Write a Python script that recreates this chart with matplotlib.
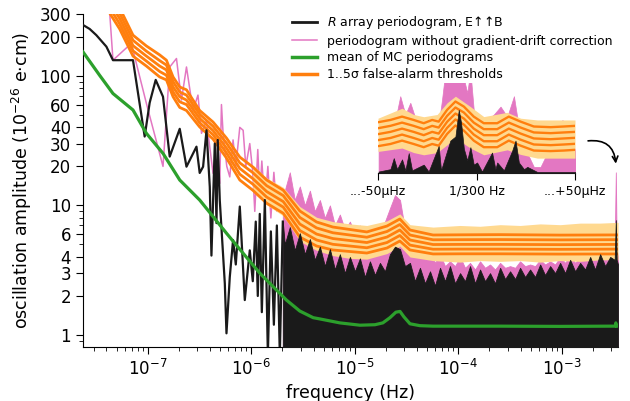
import numpy as np
import matplotlib
matplotlib.use("Agg")
import matplotlib.pyplot as plt
from matplotlib.lines import Line2D
from matplotlib.ticker import FixedLocator, FixedFormatter, LogLocator, NullFormatter, NullLocator

# ---------------- data ----------------
# R-array periodogram, low-frequency part drawn as a line (Hz, 1e-26 e cm)
f_black = [2.37e-8, 2.75e-8, 3.19e-8, 3.99e-8, 4.62e-8, 7.21e-8, 9.35e-8, 1.045e-7,
           1.195e-7, 1.406e-7, 1.632e-7, 2.04e-7, 2.37e-7, 2.96e-7, 3.18e-7, 3.43e-7,
           3.70e-7, 3.98e-7, 4.13e-7, 4.45e-7, 4.62e-7, 4.75e-7, 4.97e-7, 5.56e-7,
           5.77e-7, 6.21e-7, 6.68e-7, 7.10e-7, 7.76e-7, 8.67e-7, 9.69e-7, 1.036e-6,
           1.107e-6, 1.158e-6, 1.21e-6, 1.267e-6, 1.355e-6, 1.449e-6, 1.549e-6, 1.656e-6,
           1.77e-6, 1.89e-6, 2.02e-6]
amp_black = [247, 230, 206, 168, 132, 132, 34, 62,
             93, 69, 23.8, 39, 19.9, 28.4, 17.8, 19.9,
             38, 13.9, 4.1, 30, 7.3, 32, 11, 2.5,
             1.03, 2.8, 5.4, 3.5, 9.8, 1.86, 4.5, 2.6,
             7.5, 2.0, 8.6, 1.5, 11, 0.7, 6.3, 1.2,
             7.0, 0.7, 7.5]

# periodogram without gradient-drift correction, low-frequency part
f_pink = [2.37e-8, 3.43e-8, 4.29e-8, 4.62e-8, 6.95e-8, 9.78e-8, 1.406e-7, 1.632e-7,
          1.897e-7, 2.12e-7, 2.37e-7, 2.74e-7, 3.06e-7, 3.31e-7, 3.70e-7, 4.28e-7,
          4.62e-7, 4.97e-7, 5.16e-7, 5.35e-7, 5.81e-7, 6.21e-7, 6.68e-7, 7.10e-7,
          7.76e-7, 8.36e-7, 8.87e-7, 9.69e-7, 1.036e-6, 1.083e-6, 1.158e-6, 1.21e-6,
          1.267e-6, 1.355e-6, 1.449e-6, 1.549e-6, 1.656e-6, 1.77e-6, 1.89e-6, 2.02e-6]
amp_pink = [900, 600, 310, 132, 178, 60, 20, 117,
            136, 65, 117, 54, 71, 36, 45, 17.7,
            22.4, 14.8, 60, 36, 20, 16.6, 32, 20,
            40, 38, 20, 30, 18, 9, 27, 12,
            22, 10, 20, 8, 18, 9, 14, 12]

# dense high-frequency part: upper envelope of the two periodograms
f_dense = [9.69e-7, 1.083e-6, 1.21e-6, 1.355e-6, 1.514e-6, 1.69e-6, 1.89e-6, 2.11e-6,
           2.36e-6, 2.64e-6, 2.95e-6, 3.30e-6, 3.69e-6, 4.12e-6, 4.61e-6, 5.15e-6,
           5.76e-6, 6.44e-6, 7.19e-6, 8.04e-6, 8.99e-6, 1.005e-5, 1.123e-5, 1.255e-5,
           1.403e-5, 1.569e-5, 1.753e-5, 1.96e-5, 2.19e-5, 2.45e-5, 2.74e-5, 3.06e-5,
           3.42e-5, 3.82e-5, 4.27e-5, 4.78e-5, 5.34e-5, 5.97e-5, 6.67e-5, 7.46e-5,
           8.33e-5, 9.32e-5, 1.042e-4, 1.164e-4, 1.301e-4, 1.455e-4, 1.626e-4, 1.817e-4,
           2.03e-4, 2.27e-4, 2.54e-4, 2.84e-4, 3.17e-4, 3.55e-4, 3.96e-4, 4.43e-4,
           4.95e-4, 5.53e-4, 6.19e-4, 6.91e-4, 7.73e-4, 8.64e-4, 9.65e-4, 1.079e-3,
           1.206e-3, 1.348e-3, 1.507e-3, 1.685e-3, 1.883e-3, 2.10e-3, 2.35e-3, 2.63e-3,
           2.94e-3, 3.25e-3, 3.333e-3, 3.40e-3, 3.50e-3]
black_top = [4.5, 9.0, 6.5, 11.0, 5.5, 8.0, 7.5, 5.0,
             6.8, 4.5, 6.1, 4.2, 5.5, 3.8, 4.8, 3.4,
             4.6, 3.2, 4.2, 3.0, 4.0, 3.1, 3.9, 2.8,
             3.7, 2.9, 3.6, 3.1, 4.2, 4.8, 4.6, 3.4,
             3.6, 2.6, 3.3, 2.5, 3.1, 2.4, 3.3, 2.6,
             3.4, 2.5, 3.0, 2.6, 3.4, 2.5, 3.2, 2.6,
             3.0, 2.5, 3.3, 2.7, 3.1, 2.7, 3.3, 2.8,
             3.2, 2.8, 3.5, 2.9, 3.4, 3.0, 3.6, 3.0,
             3.8, 3.1, 3.6, 3.2, 4.0, 3.2, 4.2, 3.4,
             4.0, 3.8, 7.7, 3.8, 3.5]
pink_top = [30, 18, 27, 16, 22, 14, 20, 13,
            18, 11, 14, 10, 13, 9, 11, 8,
            10, 7, 8.5, 6.5, 7.5, 6.0, 7.0, 5.5,
            6.5, 5.5, 7.0, 7.5, 9.5, 12, 11, 6.5,
            6.0, 4.0, 4.6, 3.8, 4.6, 3.6, 4.2, 3.4,
            3.7, 3.4, 4.0, 3.3, 3.6, 3.2, 3.7, 3.3,
            3.5, 3.2, 3.6, 3.3, 3.4, 3.3, 3.7, 3.4,
            3.5, 3.4, 3.8, 3.5, 3.7, 3.5, 4.0, 3.6,
            4.1, 3.6, 4.0, 3.7, 4.3, 3.8, 4.5, 4.0,
            4.6, 5.0, 18, 4.5, 4.0]

# mean of Monte-Carlo periodograms
f_mc = [2.37e-8, 3.43e-8, 4.62e-8, 7.21e-8, 9.71e-8, 1.406e-7, 2.04e-7, 3.18e-7,
        4.28e-7, 5.77e-7, 8.36e-7, 1.21e-6, 1.63e-6, 2.19e-6, 2.95e-6, 3.97e-6,
        4.61e-6, 7.19e-6, 1.123e-5, 1.569e-5, 1.87e-5, 2.19e-5, 2.50e-5, 2.74e-5,
        2.99e-5, 3.42e-5, 4.27e-5, 5.71e-5, 2.54e-4, 9.65e-4, 2.94e-3, 3.29e-3,
        3.333e-3, 3.37e-3, 3.50e-3]
mc_mean = [153, 101, 73, 54.5, 36, 25.2, 15.7, 11,
           8.2, 6.1, 4.27, 3.0, 2.36, 1.86, 1.53, 1.36,
           1.33, 1.24, 1.19, 1.2, 1.24, 1.36, 1.5, 1.52,
           1.38, 1.22, 1.18, 1.17, 1.17, 1.165, 1.17, 1.17,
           1.24, 1.17, 1.17]

# 1..5 sigma false-alarm thresholds
f_thr = [3.43e-8, 4.29e-8, 5.36e-8, 7.21e-8, 9.71e-8, 1.306e-7, 1.517e-7, 1.758e-7,
         2.04e-7, 2.37e-7, 3.18e-7, 4.28e-7, 5.77e-7, 7.76e-7, 1.036e-6, 1.41e-6,
         2.04e-6, 2.95e-6, 4.28e-6, 6.15e-6, 1.31e-5, 2.05e-5, 2.73e-5, 3.42e-5,
         5.71e-5, 1.04e-4, 2.54e-4, 9.66e-4, 3.50e-3]
thr_5 = [589, 443, 334, 206, 170, 145, 132, 98, 82, 78, 54, 44, 33.1, 23.6, 19.8, 15.7,
         13.1, 9.06, 7.45, 6.81, 6.24, 6.93, 7.85, 6.46, 5.91, 5.93, 5.95, 5.90, 5.92]
thr_4 = [536, 404, 304, 188, 155, 131, 121, 90, 75, 71, 50.5, 40.8, 30.3, 21.3, 17.9, 14.2,
         11.9, 8.07, 6.70, 6.15, 5.68, 6.29, 7.12, 5.91, 5.43, 5.44, 5.45, 5.42, 5.44]
thr_3 = [488, 368, 277, 171, 142, 119, 111, 82, 69, 65, 46.9, 37.8, 27.7, 19.3, 16.1, 12.8,
         10.7, 7.18, 6.01, 5.55, 5.17, 5.70, 6.46, 5.41, 4.99, 5.0, 5.0, 4.98, 5.0]
thr_2 = [444, 335, 252, 156, 130, 108, 101, 75, 63, 60, 43.4, 35.1, 25.4, 17.4, 14.6, 11.6,
         9.7, 6.40, 5.41, 5.01, 4.71, 5.17, 5.86, 4.94, 4.59, 4.6, 4.6, 4.58, 4.6]
thr_1 = [405, 305, 230, 142, 119, 98, 93, 69, 57, 54, 40.3, 32.5, 23.2, 15.7, 13.1, 10.4,
         8.7, 5.70, 4.86, 4.53, 4.29, 4.69, 5.31, 4.53, 4.22, 4.23, 4.23, 4.21, 4.22]

# spread of the thresholds (light band)
f_band = [1.036e-6, 1.41e-6, 2.04e-6, 2.95e-6, 4.28e-6, 6.15e-6, 8.99e-6, 1.31e-5,
          2.05e-5, 2.73e-5, 3.42e-5, 5.71e-5, 1.04e-4, 1.626e-4, 2.54e-4, 3.96e-4,
          6.19e-4, 9.66e-4, 1.507e-3, 2.35e-3, 3.50e-3]
band_hi = [20.5, 16.3, 13.8, 9.8, 8.1, 7.5, 7.2, 7.0, 7.6, 8.6, 7.1, 6.8, 7.0, 6.9,
           7.1, 7.0, 7.2, 7.1, 7.3, 7.3, 7.4]
band_lo = [12.8, 10.1, 8.3, 5.3, 4.5, 4.1, 3.9, 3.85, 4.25, 4.85, 4.0, 3.75, 3.65, 3.75,
           3.7, 3.75, 3.65, 3.75, 3.7, 3.8, 3.8]

# inset: +-50 uHz around 1/300 Hz (offsets in uHz)
off_thr = [-50, -43.7, -37.8, -31.9, -26.8, -22.5, -19.2, -14.9, -10.7, -6.4,
           -1.4, 3.7, 10.5, 16.4, 22.4, 29.1, 37.6, 44.4, 50]
in_thr_5 = [5.93, 6.12, 6.41, 6.12, 5.85, 6.12, 5.98, 7.04, 7.9, 7.36,
            6.41, 5.85, 5.85, 6.41, 5.98, 5.59, 5.54, 5.59, 5.64]
in_thr_4 = [5.46, 5.64, 5.90, 5.64, 5.39, 5.64, 5.51, 6.48, 7.27, 6.78,
            5.90, 5.39, 5.39, 5.90, 5.51, 5.15, 5.10, 5.15, 5.19]
in_thr_3 = [5.03, 5.19, 5.43, 5.19, 4.96, 5.19, 5.07, 5.97, 6.69, 6.24,
            5.43, 4.96, 4.96, 5.43, 5.07, 4.74, 4.69, 4.74, 4.78]
in_thr_2 = [4.63, 4.77, 5.00, 4.77, 4.56, 4.77, 4.66, 5.49, 6.16, 5.74,
            5.00, 4.56, 4.56, 5.00, 4.66, 4.36, 4.32, 4.36, 4.40]
in_thr_1 = [4.26, 4.39, 4.60, 4.39, 4.20, 4.39, 4.29, 5.05, 5.67, 5.28,
            4.60, 4.20, 4.20, 4.60, 4.29, 4.01, 3.98, 4.01, 4.05]

off_band = [-50, -37.8, -31.9, -26.8, -20, -14.9, -10.7, -3.1, 3.7, 15.6, 22.4, 30.9, 50]
in_band_hi = [6.27, 7.2, 6.6, 6.4, 6.6, 7.76, 8.5, 7.36, 6.41, 6.8, 6.27, 6.12, 6.12]
in_band_lo = [3.96, 4.15, 3.9, 3.78, 3.9, 4.34, 4.76, 4.15, 3.78, 4.05, 3.8, 3.61, 3.61]

off_pink = [-49.7, -45.4, -41.2, -38.7, -36.1, -33.6, -30.2, -25.9, -22.6, -20.0, -17.5,
            -15.8, -11.5, -7.3, -4.7, -3.1, -1.4, 2.0, 8.8, 12.2, 15.6, 19.0, 21.5,
            25.8, 29.1, 32.5, 35.9, 41.0, 43.6, 46.1, 47.8, 50.4]
in_pink = [4.15, 4.87, 6.12, 8.5, 6.6, 7.76, 5.85, 4.87, 6.41, 4.87, 8.1,
           12, 12, 12, 8.9, 12, 7.04, 5.7, 6.6, 7.36, 6.41, 8.5, 5.5,
           3.87, 3.2, 3.2, 3.87, 4.2, 6.12, 5.5, 3.7, 4.15]

off_black = [-49.7, -43.7, -42.0, -40.3, -37.8, -36.1, -34.4, -32.7, -26.8, -24.3, -19.2,
             -18.0, -15.8, -13.3, -10.7, -9.0, -7.8, -6.4, -4.7, -3.1, -1.4, 0.3, 2.8,
             7.9, 9.6, 10.5, 13.9, 18.1, 19.8, 21.5, 24.1, 25.8, 30.9, 50.4]
in_black = [3.0, 3.1, 3.61, 3.1, 3.55, 3.05, 3.87, 3.05, 3.3, 3.0, 4.27,
            3.05, 3.7, 4.6, 4.87, 7.04, 5.85, 4.1, 3.5, 4.2, 3.3, 3.4, 3.0,
            3.9, 3.1, 3.4, 3.05, 4.0, 4.6, 3.4, 3.1, 3.2, 2.98, 2.98]

ytick_vals = [1, 2, 3, 4, 6, 10, 20, 30, 40, 60, 100, 200, 300]

BLACK = '#1a1a1a'
PINK = '#e377c2'
GREEN = '#2ca02c'
ORANGE = '#ff7f0e'
BAND = '#ffd990'

f_spike = 1 / 300

# ---------------- main plot ----------------
fig = plt.figure(figsize=(6.3, 4.01), dpi=100)
ax = fig.add_axes([0.1317, 0.1347, 0.8493, 0.8304])

f_dense_arr = np.array(f_dense)
# below these frequencies the periodograms are drawn as plain lines
dense_black = f_dense_arr > f_black[-1]
dense_pink = f_dense_arr > f_pink[-1]

ax.plot(f_pink, amp_pink, color=PINK, lw=1.1, zorder=1)
ax.fill_between(np.r_[f_pink[-1], f_dense_arr[dense_pink]], 0.1,
                np.r_[amp_pink[-1], np.array(pink_top)[dense_pink]],
                color=PINK, lw=0.6, zorder=1)
ax.fill_between(f_band, band_lo, band_hi, color=BAND, lw=0, zorder=2)
for thr in (thr_1, thr_2, thr_3, thr_4, thr_5):
    ax.plot(f_thr, thr, color=ORANGE, lw=2, zorder=3)
ax.plot(f_black, amp_black, color=BLACK, lw=1.6, zorder=4)
ax.fill_between(np.r_[f_black[-1], f_dense_arr[dense_black]], 0.1,
                np.r_[amp_black[-1], np.array(black_top)[dense_black]],
                color=BLACK, lw=0.6, zorder=4)
ax.plot(f_mc, mc_mean, color=GREEN, lw=2.3, zorder=5)

ax.set_xscale('log')
ax.set_yscale('log')
ax.set_xlim(2.37e-8, 3.5e-3)
ax.set_ylim(0.808, 300)

ax.yaxis.set_major_locator(FixedLocator(ytick_vals))
ax.yaxis.set_major_formatter(FixedFormatter([str(v) for v in ytick_vals]))
ax.yaxis.set_minor_locator(LogLocator(subs=np.arange(2, 10)))
ax.yaxis.set_minor_formatter(NullFormatter())

for s in ('top', 'right'):
    ax.spines[s].set_visible(False)
ax.tick_params(which='major', length=5, labelsize=12)
ax.tick_params(which='minor', length=3)

ax.set_xlabel('frequency (Hz)', fontsize=12.5)
ax.set_ylabel('oscillation amplitude ($10^{-26}$ e·cm)', fontsize=12.5)

handles = [Line2D([], [], color=BLACK, lw=2),
           Line2D([], [], color=PINK, lw=1.1),
           Line2D([], [], color=GREEN, lw=2.5),
           Line2D([], [], color=ORANGE, lw=2.5)]
labels = ['$R$ array periodogram, E↑↑B',
          'periodogram without gradient-drift correction',
          'mean of MC periodograms',
          '1..5σ false-alarm thresholds']
ax.legend(handles, labels, loc='upper left', bbox_to_anchor=(0.39, 1.0),
          frameon=False, fontsize=9, borderpad=0, borderaxespad=0,
          labelspacing=0.3)

ax.annotate('', xy=(f_spike, 21), xycoords='data',
            xytext=(0.944, 0.619), textcoords='axes fraction',
            arrowprops=dict(arrowstyle='->', color='k', lw=1.2,
                            connectionstyle='arc3,rad=-0.5',
                            shrinkA=0, shrinkB=0))

# ---------------- inset around 1/300 Hz ----------------
axins = fig.add_axes([0.6, 0.5686, 0.3127, 0.2244])
axins.set_facecolor('none')
fx = lambda offs: [f_spike + o * 1e-6 for o in offs]

axins.fill_between(fx(off_pink), 1, in_pink, color=PINK, lw=0.5, zorder=1)
axins.fill_between(fx(off_band), in_band_lo, in_band_hi, color=BAND, lw=0, zorder=2)
for thr in (in_thr_1, in_thr_2, in_thr_3, in_thr_4, in_thr_5):
    axins.plot(fx(off_thr), thr, color=ORANGE, lw=1.7, zorder=3)
axins.fill_between(fx(off_black), 1, in_black, color=BLACK, lw=0.5, zorder=4)

axins.set_yscale('log')
axins.set_ylim(2.94, 10.2)
axins.set_xlim(f_spike - 50e-6, f_spike + 50e-6)
axins.yaxis.set_major_locator(NullLocator())
axins.yaxis.set_minor_locator(NullLocator())
axins.set_xticks([f_spike - 50e-6, f_spike, f_spike + 50e-6])
axins.set_xticklabels(['...-50µHz', '1/300 Hz', '...+50µHz'], fontsize=9)
axins.tick_params(axis='x', length=5)
for s in ('top', 'right', 'left'):
    axins.spines[s].set_visible(False)

fig.savefig('out.png', dpi=100)
